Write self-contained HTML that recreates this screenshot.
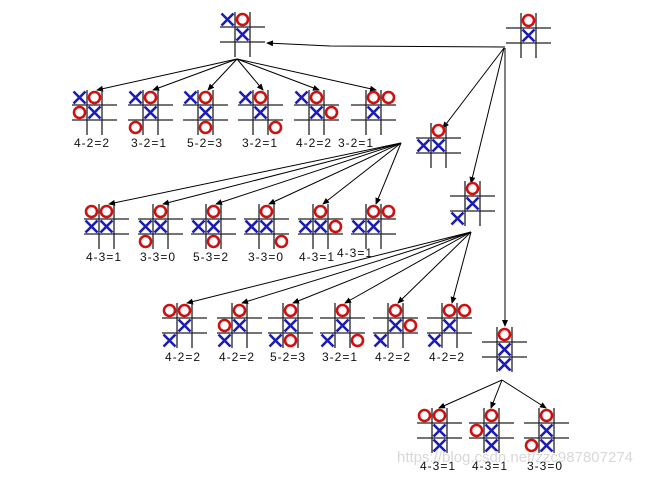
<!DOCTYPE html>
<html><head><meta charset="utf-8"><style>
html,body{margin:0;padding:0;background:#fff;}
svg{display:block;}
text{font-family:"Liberation Sans",sans-serif;font-size:12px;fill:#111;letter-spacing:1px;}
</style></head><body>
<svg id="s" width="659" height="485" viewBox="0 0 659 485" xmlns="http://www.w3.org/2000/svg">
<defs><marker id="a" markerWidth="7" markerHeight="7" refX="6" refY="3" orient="auto" markerUnits="userSpaceOnUse"><path d="M0,0 L7,3 L0,6 z" fill="#000"/></marker></defs>
<g id="lines" stroke="#000" stroke-width="1" fill="none"></g>
<g id="boards"></g>
<g text-anchor="middle">
<text x="92" y="147">4-2=2</text><text x="149" y="147">3-2=1</text><text x="205" y="147">5-2=3</text><text x="260" y="147">3-2=1</text><text x="314" y="147">4-2=2</text><text x="356" y="147">3-2=1</text>
<text x="104" y="261">4-3=1</text><text x="158" y="261">3-3=0</text><text x="211" y="261">5-3=2</text><text x="266" y="261">3-3=0</text><text x="317" y="261">4-3=1</text><text x="355" y="257">4-3=1</text>
<text x="183" y="361">4-2=2</text><text x="237" y="361">4-2=2</text><text x="288" y="361">5-2=3</text><text x="340" y="361">3-2=1</text><text x="393" y="361">4-2=2</text><text x="447" y="361">4-2=2</text>
<text x="438" y="470">4-3=1</text><text x="490" y="470">4-3=1</text><text x="545" y="470">3-3=0</text>
</g>
<text x="397" y="462" style="font-size:15px;fill:#d8d8d8;letter-spacing:0">https://blog.csdn.net/zzc987807274</text>
</svg>
<script>
var NS="http://www.w3.org/2000/svg",B=document.getElementById('boards'),L=document.getElementById('lines');
function el(p,t,a){var e=document.createElementNS(NS,t);for(var k in a)e.setAttribute(k,a[k]);p.appendChild(e);return e;}
function board(x,y,m){var c=15;
el(B,'line',{x1:x+c,y1:y,x2:x+c,y2:y+3*c,stroke:'#222','stroke-width':1.3});
el(B,'line',{x1:x+2*c,y1:y,x2:x+2*c,y2:y+3*c,stroke:'#222','stroke-width':1.3});
el(B,'line',{x1:x,y1:y+c,x2:x+3*c,y2:y+c,stroke:'#222','stroke-width':1.3});
el(B,'line',{x1:x,y1:y+2*c,x2:x+3*c,y2:y+2*c,stroke:'#222','stroke-width':1.3});
m.split(' ').forEach(function(s){var t=s[0],r=+s[1],q=+s[2],cx=x+q*c+7.5,cy=y+r*c+7.5;
if(t=='O')el(B,'circle',{cx:cx,cy:cy,r:5.5,fill:'none',stroke:'#d01010','stroke-width':2.6});
else{el(B,'line',{x1:cx-6,y1:cy-6,x2:cx+6,y2:cy+6,stroke:'#1c1cb4','stroke-width':2.6});el(B,'line',{x1:cx+6,y1:cy-6,x2:cx-6,y2:cy+6,stroke:'#1c1cb4','stroke-width':2.6});}});}
function ar(x1,y1,x2,y2){el(L,'line',{x1:x1,y1:y1,x2:x2,y2:y2,'marker-end':'url(#a)'});}
board(220,12,'X00 O01 X11');
board(506,13,'O01 X11');
var r1=[72,128,183,238,294,351],m1=['X00 O01 O10 X11','X00 O01 X11 O20','X00 O01 X11 O21','X00 O01 X11 O22','X00 O01 X11 O12','O01 O02 X11'];
r1.forEach(function(x,i){board(x,90,m1[i]);ar(237,59,x+25,90);});
board(416,123,'O01 X10 X11');
board(450,181,'O01 X11 X20');
var r2=[84,138,191,244,298,351],m2=['O00 O01 X10 X11','O01 X10 X11 O20','O01 X10 X11 O21','O01 X10 X11 O22','O01 X10 X11 O12','O01 O02 X10 X11'];
r2.forEach(function(x,i){board(x,204,m2[i]);ar(401,143,x+25,204);});
var r3=[162,217,268,320,373,427],m3=['O00 O01 X11 X20','O01 O10 X11 X20','O01 X11 X20 O21','O01 X11 X20 O22','O01 X11 O12 X20','O01 O02 X11 X20'];
r3.forEach(function(x,i){board(x,303,m3[i]);ar(471,232,x+25,303);});
board(482,327,'O01 X11 X21');
var r4=[417,469,524],m4=['O00 O01 X11 X21','O01 O10 X11 X21','O01 X11 X21 O20'];
r4.forEach(function(x,i){board(x,408,m4[i]);ar(502,380,x+22,408);});
el(L,'polyline',{points:'505,47 330,46 267,43','marker-end':'url(#a)'});
ar(504,48,443,128);ar(504,48,471,183);
el(L,'line',{x1:505,y1:48,x2:505,y2:326,'marker-end':'url(#a)'});
</script>
</body></html>
